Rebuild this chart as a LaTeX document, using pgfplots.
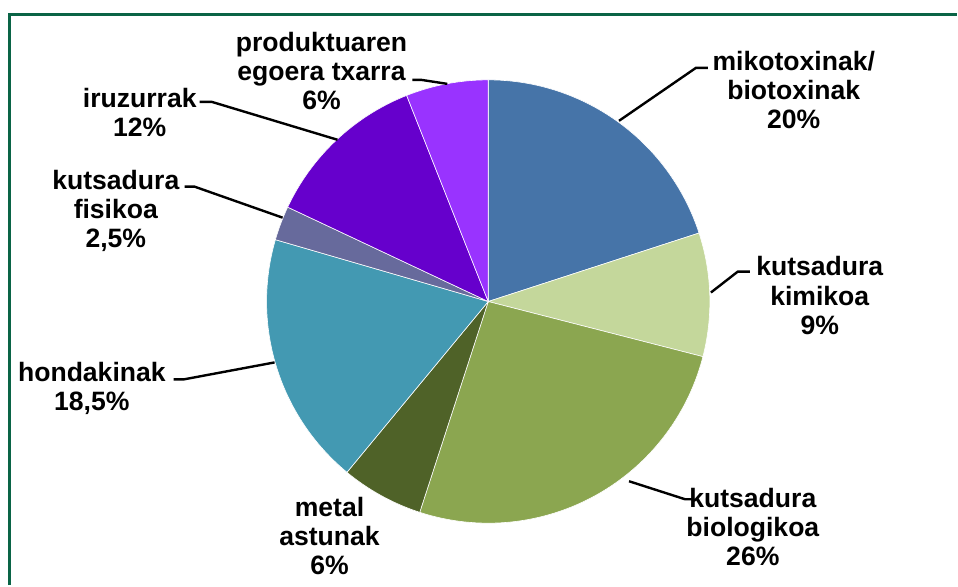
\documentclass[border=0pt]{standalone}
\usepackage{pgfplots}
\pgfplotsset{compat=1.18}
\usepackage{fontspec}
\setmainfont{Liberation Sans}
\definecolor{cMiko}{HTML}{4674A8}
\definecolor{cKimi}{HTML}{C4D79B}
\definecolor{cBio}{HTML}{8BA650}
\definecolor{cMetal}{HTML}{4F6228}
\definecolor{cHond}{HTML}{4399B2}
\definecolor{cFisi}{HTML}{676A9C}
\definecolor{cIru}{HTML}{6600CC}
\definecolor{cProd}{HTML}{9933FF}
\definecolor{cFrame}{HTML}{0A6446}
\tikzset{lbl/.style={font=\fontsize{13.3}{14.6}\selectfont\bfseries, align=center, anchor=center, inner sep=0pt}}
% cumulative percentages (values: 20, 9, 26, 6, 18.5, 2.5, 12, 6)
\newcommand{\wedgeplot}[3]{%
  \addplot[fill=#3, draw=white, line width=0.3pt, domain=#1*3.6:#2*3.6, samples=90]
    ({489+222*sin(x)}, {284+222*cos(x)}) -- (489,284) -- cycle;}
\begin{document}
\begin{tikzpicture}
\begin{axis}[scale only axis, width=479pt, height=293pt,
  xmin=0, xmax=958, ymin=0, ymax=586, hide axis, clip=false]
\path (0,0) rectangle (958,586);
\wedgeplot{0}{20}{cMiko}
\wedgeplot{20}{29}{cKimi}
\wedgeplot{29}{55}{cBio}
\wedgeplot{55}{61}{cMetal}
\wedgeplot{61}{79.5}{cHond}
\wedgeplot{79.5}{82}{cFisi}
\wedgeplot{82}{94}{cIru}
\wedgeplot{94}{100}{cProd}
% frame
\draw[cFrame, line width=1.5pt] (9.5,0) -- (9.5,571) -- (958,571);
% leader lines
\draw[black, line width=1.2pt] (620,465) -- (697,518) -- (709,518);
\draw[black, line width=1.2pt] (712,293) -- (739,314) -- (751,314);
\draw[black, line width=1.2pt] (630,104) -- (686,86) -- (694,86);
\draw[black, line width=1.2pt] (174,206) -- (184,206) -- (275,223);
\draw[black, line width=1.2pt] (185,399) -- (195,399) -- (283,368);
\draw[black, line width=1.2pt] (200,484) -- (212,484) -- (338,446);
\draw[black, line width=1.2pt] (413,506) -- (422,506) -- (448,502);
% labels
\node[lbl] at (795,496) {mikotoxinak/\\biotoxinak\\20\%};
\node[lbl] at (821,290) {kutsadura\\kimikoa\\9\%};
\node[lbl] at (754,58) {kutsadura\\biologikoa\\26\%};
\node[lbl] at (330,49) {metal\\astunak\\6\%};
\node[lbl] at (92,197) {hondakinak\\18,5\%};
\node[lbl] at (116,375) {kutsadura\\fisikoa\\2,5\%};
\node[lbl] at (140,473) {iruzurrak\\12\%};
\node[lbl] at (322,515) {produktuaren\\egoera txarra\\6\%};
\end{axis}
\end{tikzpicture}
\end{document}
